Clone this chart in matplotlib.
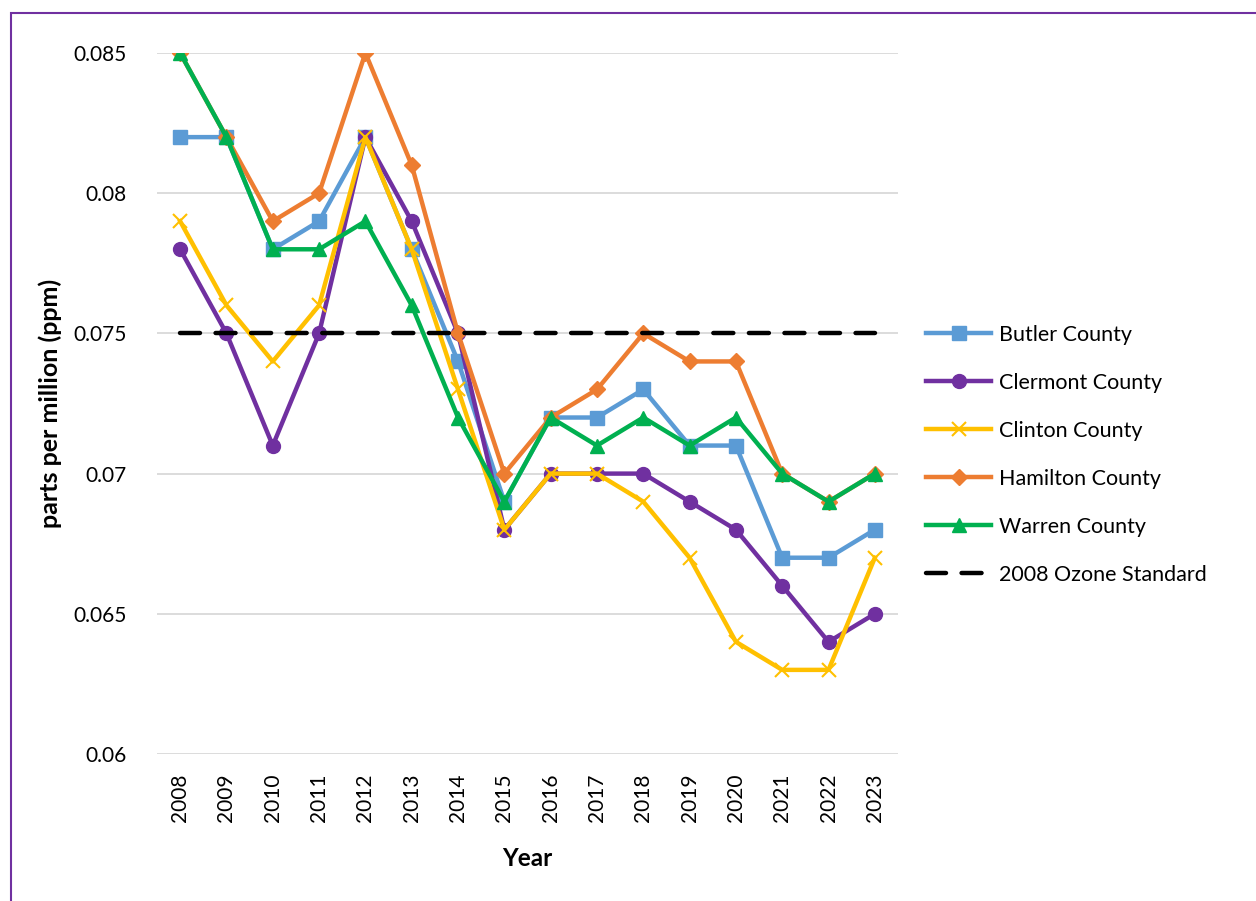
import matplotlib
matplotlib.use('Agg')
import matplotlib.pyplot as plt
from matplotlib.patches import Rectangle

plt.rcParams['font.family'] = ['Lato', 'DejaVu Sans']

# Dados
anos = ['2008', '2009', '2010', '2011', '2012', '2013', '2014', '2015',
        '2016', '2017', '2018', '2019', '2020', '2021', '2022', '2023']
butler = [0.082, 0.082, 0.078, 0.079, 0.082, 0.078, 0.074, 0.069,
          0.072, 0.072, 0.073, 0.071, 0.071, 0.067, 0.067, 0.068]
clermont = [0.078, 0.075, 0.071, 0.075, 0.082, 0.079, 0.075, 0.068,
            0.070, 0.070, 0.070, 0.069, 0.068, 0.066, 0.064, 0.065]
clinton = [0.079, 0.076, 0.074, 0.076, 0.082, 0.078, 0.073, 0.068,
           0.070, 0.070, 0.069, 0.067, 0.064, 0.063, 0.063, 0.067]
hamilton = [0.085, 0.082, 0.079, 0.080, 0.085, 0.081, 0.075, 0.070,
            0.072, 0.073, 0.075, 0.074, 0.074, 0.070, 0.069, 0.070]
warren = [0.085, 0.082, 0.078, 0.078, 0.079, 0.076, 0.072, 0.069,
          0.072, 0.071, 0.072, 0.071, 0.072, 0.070, 0.069, 0.070]
padrao = [0.075] * len(anos)

fig = plt.figure(figsize=(12.56, 9.01), dpi=100)
ax = fig.add_axes([157 / 1256, 1 - 754 / 901, (898 - 157) / 1256, (754 - 53) / 901])

x = list(range(len(anos)))

ax.plot(x, butler, color='#5B9BD5', lw=3.2, marker='s', ms=10, label='Butler County', zorder=3)
ax.plot(x, clermont, color='#7030A0', lw=3.2, marker='o', ms=10, label='Clermont County', zorder=3)
ax.plot(x, clinton, color='#FFC000', lw=3.2, marker='x', ms=10, mew=1.5, label='Clinton County', zorder=3)
ax.plot(x, hamilton, color='#ED7D31', lw=3.2, marker='D', ms=8, label='Hamilton County', zorder=3)
ax.plot(x, warren, color='#00B050', lw=3.2, marker='^', ms=10, label='Warren County', zorder=3)
ax.plot(x, padrao, color='black', lw=3.2, dashes=(4.5, 3.5), dash_capstyle='round',
        label='2008 Ozone Standard', zorder=3)

ax.set_xlim(-0.5, len(anos) - 0.5)
ax.set_ylim(0.06, 0.085)
ax.set_yticks([0.06, 0.065, 0.07, 0.075, 0.08, 0.085])
ax.set_yticklabels(['0.06', '0.065', '0.07', '0.075', '0.08', '0.085'], fontsize=15)
ax.set_xticks(x)
ax.set_xticklabels(anos, rotation=90, fontsize=15)
ax.tick_params(length=0, pad=14)
ax.tick_params(axis='y', pad=22)
ax.grid(axis='y', color='#D9D9D9', lw=1.3)
ax.set_axisbelow(True)
for s in ax.spines.values():
    s.set_visible(False)

ax.set_xlabel('Year', fontsize=17.5, fontweight='bold', labelpad=18)
ax.set_ylabel('parts per million (ppm)', fontsize=18, fontweight='bold', labelpad=8)

leg = ax.legend(loc='center left', bbox_to_anchor=(1.012, 0.427), frameon=False,
                fontsize=15.5, handlelength=3.0, labelspacing=1.3, handletextpad=0.4)

# Borda roxa da figura
fig.patches.append(Rectangle((11 / 1256, -0.1), 1.2, (1 - 13 / 901) + 0.1,
                             transform=fig.transFigure, fill=False,
                             edgecolor='#7030A0', lw=1.5))

fig.savefig('out.png', dpi=100)
